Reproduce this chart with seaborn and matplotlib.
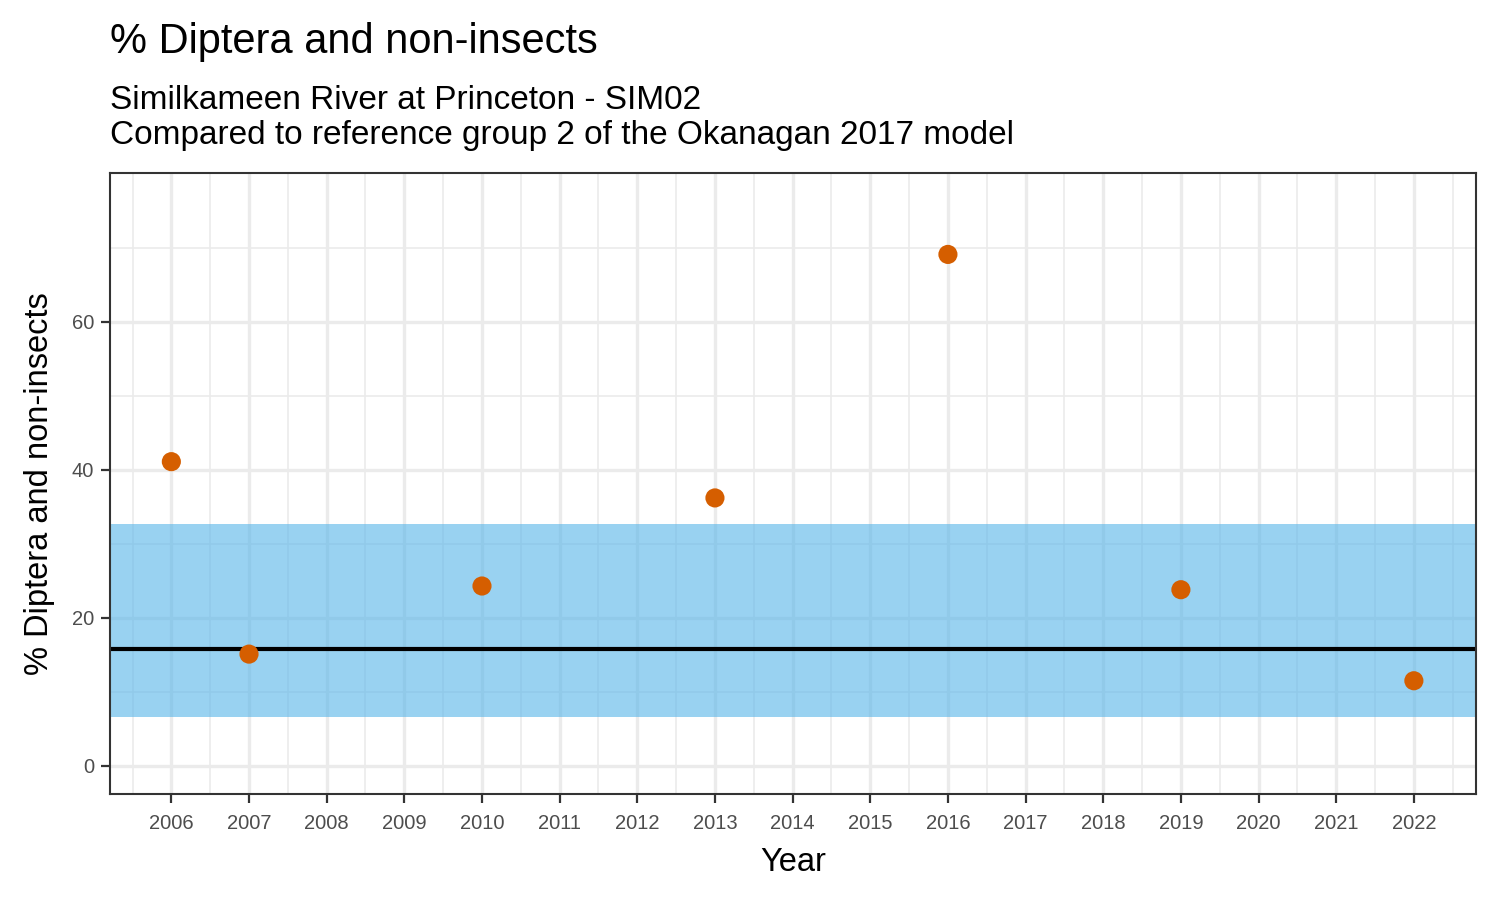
import pandas as pd
import numpy as np
import matplotlib
matplotlib.use("Agg")
import matplotlib.pyplot as plt
import seaborn as sns
from matplotlib.ticker import FixedLocator

# data
years = [2006, 2007, 2010, 2013, 2016, 2019, 2022]
pct_diptera = [41.1, 15.1, 24.3, 36.2, 69.1, 23.8, 11.5]
ref_median = 15.8
ref_low = 6.6
ref_high = 32.7
tick_years = list(range(2006, 2023))
y_ticks = [0, 20, 40, 60]

df = pd.DataFrame({"Year": years, "Pct": pct_diptera})

sns.set_theme(style="white")
plt.rcParams["font.family"] = ["Liberation Sans", "DejaVu Sans"]

fig = plt.figure(figsize=(15, 9), dpi=100)
ax = fig.add_axes([110 / 1500, 1 - 794 / 900, 1366 / 1500, 621 / 900])

grid_col = "#EBEBEB"
ax.set_axisbelow(True)
ax.xaxis.set_major_locator(FixedLocator(tick_years))
ax.xaxis.set_minor_locator(FixedLocator([y + 0.5 for y in range(2005, 2023)]))
ax.yaxis.set_major_locator(FixedLocator(y_ticks))
ax.yaxis.set_minor_locator(FixedLocator([10, 30, 50, 70]))
ax.grid(which="major", color=grid_col, linewidth=2.4, zorder=0)
ax.grid(which="minor", color=grid_col, linewidth=1.2, zorder=0)

# reference band and median
ax.axhspan(ref_low, ref_high, color="#56B4E9", alpha=0.6, lw=0, zorder=1)
ax.axhline(ref_median, color="black", linewidth=3.0, zorder=2)

sns.scatterplot(data=df, x="Year", y="Pct", ax=ax, color="#D55E00",
                s=190, edgecolor="none", zorder=3)

ax.set_xlim(2005.21, 2022.8)
ax.set_ylim(-3.8, 80.1)

for sp in ax.spines.values():
    sp.set_visible(True)
    sp.set_color("#333333")
    sp.set_linewidth(1.5)

ax.tick_params(which="major", direction="out", length=6.5, width=1.6,
               color="#333333", labelsize=14.5, labelcolor="#4D4D4D",
               bottom=True, left=True)
ax.tick_params(axis="x", pad=8)
ax.tick_params(axis="y", pad=5)
ax.tick_params(which="minor", length=0)
ax.set_xticklabels([str(y) for y in tick_years])

ax.set_xlabel("Year", fontsize=23.5, color="black", labelpad=10)
ax.set_ylabel("% Diptera and non-insects", fontsize=23.5, color="black", labelpad=12)

fig.text(110 / 1500, 1 - 53 / 900, "% Diptera and non-insects",
         fontsize=30, color="black", ha="left", va="baseline")
fig.text(110 / 1500, 1 - 109 / 900, "Similkameen River at Princeton - SIM02",
         fontsize=24, color="black", ha="left", va="baseline")
fig.text(110 / 1500, 1 - 144 / 900, "Compared to reference group 2 of the Okanagan 2017 model",
         fontsize=24, color="black", ha="left", va="baseline")

fig.savefig("out.png", dpi=100)
